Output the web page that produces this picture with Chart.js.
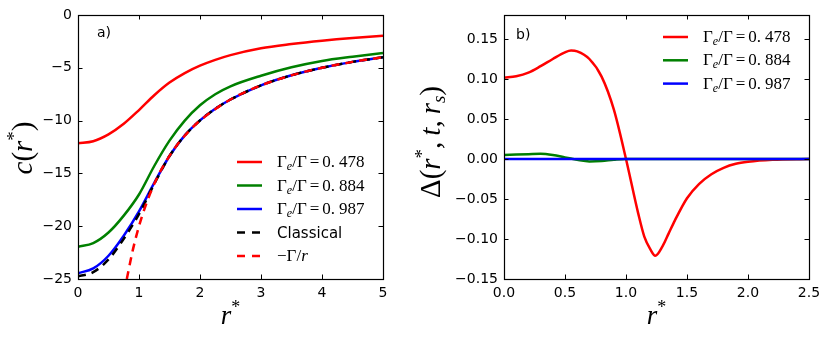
<!DOCTYPE html>
<html>
<head>
<meta charset="utf-8">
<script src="https://cdn.jsdelivr.net/npm/chart.js@4"></script>
<style>
  html, body { margin: 0; padding: 0; background: #fff; }
  #wrap { position: relative; width: 830px; height: 339px; }
  canvas { position: absolute; top: 0; }
</style>
</head>
<body>
<div id="wrap">
  <canvas id="chartA" width="415" height="339" style="left:0"></canvas>
  <canvas id="chartB" width="415" height="339" style="left:415px"></canvas>
</div>
<script>
// ---- panel a) c(r*) ----
const rA = [0, 0.25, 0.5, 0.75, 1, 1.25, 1.5, 1.75, 2, 2.25, 2.5, 3, 3.5, 4, 4.5, 5];
const cRed = [-12.15, -11.95, -11.3, -10.3, -9.0, -7.6, -6.4, -5.5, -4.8, -4.25, -3.8, -3.15, -2.75, -2.43, -2.17, -1.96];
const cGreen = [-21.95, -21.6, -20.6, -19.0, -17.0, -14.3, -11.9, -10.0, -8.55, -7.5, -6.75, -5.75, -4.95, -4.35, -3.95, -3.6];
const cBlue = [-24.45, -24.0, -22.8, -20.9, -18.6, -15.9, -13.35, -11.4, -9.98, -8.88, -8.0, -6.66, -5.71, -5.0, -4.44, -4.0];
const cClassical = [-24.75, -24.35, -23.15, -21.2, -18.85, -16.0, -13.35, -11.42, -9.99, -8.89, -8.0, -6.67, -5.71, -5.0, -4.44, -4.0];
const rInv = [0.8, 0.9, 1, 1.1, 1.2, 1.3, 1.4, 1.6, 1.8, 2, 2.5, 3, 3.5, 4, 4.5, 5];
const cInv = [-25, -22.22, -20, -18.18, -16.67, -15.38, -14.29, -12.5, -11.11, -10, -8, -6.67, -5.71, -5, -4.44, -4];
const xTicksA = [0, 1, 2, 3, 4, 5];
const yTicksA = [-25, -20, -15, -10, -5, 0];

// ---- panel b) Delta(r*, t, r_s) ----
const rB = [0, 0.1, 0.2, 0.3, 0.4, 0.5, 0.55, 0.6, 0.7, 0.8, 0.9, 1.0, 1.1, 1.15, 1.2, 1.24, 1.3, 1.35, 1.4, 1.5, 1.6, 1.7, 1.8, 1.9, 2.0, 2.2, 2.5];
const dRed = [0.1015, 0.1035, 0.108, 0.116, 0.125, 0.1333, 0.1355, 0.1345, 0.125, 0.103, 0.062, 0.0, -0.068, -0.097, -0.113, -0.121, -0.109, -0.093, -0.077, -0.049, -0.031, -0.019, -0.011, -0.006, -0.0035, -0.001, 0];
const dGreen = [0.005, 0.0055, 0.006, 0.0065, 0.005, 0.002, 0.0005, -0.001, -0.003, -0.0025, -0.001, 0, 0, 0, 0, 0, 0, 0, 0, 0, 0, 0, 0, 0, 0, 0, 0];
const dBlue = [0, 0, 0, 0, 0, 0, 0, 0, 0, 0, 0, 0, 0, 0, 0, 0, 0, 0, 0, 0, 0, 0, 0, 0, 0, 0, 0];
const xTicksB = [0, 0.5, 1, 1.5, 2, 2.5];
const yTicksB = [-0.15, -0.1, -0.05, 0, 0.05, 0.1, 0.15];

const RED = 'rgb(255,0,0)', GREEN = 'rgb(0,128,0)', BLUE = 'rgb(0,0,255)', BLACK = 'rgb(0,0,0)';
const SANS = '"DejaVu Sans", sans-serif';
const SERIF = '"Liberation Serif", "DejaVu Serif", serif';
const MINUS = '\u2212';

function pts(xs, ys) { return xs.map((x, i) => ({ x: x, y: ys[i] })); }

// text pieces: {t, f, dy} or {gap}
function richWidth(ctx, segs) {
  let w = 0;
  segs.forEach(s => {
    if (s.gap !== undefined) { w += s.gap; return; }
    ctx.font = s.f; w += ctx.measureText(s.t).width;
  });
  return w;
}
function drawRich(ctx, segs, x, y, align) {
  let cx = x;
  if (align === 'center') cx = x - richWidth(ctx, segs) / 2;
  ctx.textBaseline = 'alphabetic';
  ctx.textAlign = 'left';
  ctx.fillStyle = '#000';
  segs.forEach(s => {
    if (s.gap !== undefined) { cx += s.gap; return; }
    ctx.font = s.f;
    ctx.fillText(s.t, cx, y + (s.dy || 0));
    cx += ctx.measureText(s.t).width;
  });
}
const m = (t, size, style) => ({ t: t, f: (style || '') + ' ' + size + 'px ' + SERIF });
function ratioLabel(val) {
  return [m('Γ', 17), { t: 'e', f: 'italic 12px ' + SERIF, dy: 3 }, m('/Γ', 17), { gap: 3 }, m('=', 17), { gap: 3 }, m('0.', 17), { gap: 4 }, m(val, 17)];
}

function decorations(cfg) {
  return {
    id: 'decor',
    afterDatasetsDraw(chart) {
      const ctx = chart.ctx, a = chart.chartArea;
      const xs = chart.scales.x, ys = chart.scales.y;
      ctx.save();
      ctx.strokeStyle = '#000';
      ctx.lineWidth = 1;
      ctx.beginPath();
      const L = 4.5;
      cfg.xTicks.forEach(v => {
        const p = Math.round(xs.getPixelForValue(v)) + 0.5;
        ctx.moveTo(p, a.bottom); ctx.lineTo(p, a.bottom - L);
        ctx.moveTo(p, a.top); ctx.lineTo(p, a.top + L);
      });
      cfg.yTicks.forEach(v => {
        const p = Math.round(ys.getPixelForValue(v)) + 0.5;
        ctx.moveTo(a.left, p); ctx.lineTo(a.left + L, p);
        ctx.moveTo(a.right, p); ctx.lineTo(a.right - L, p);
      });
      ctx.stroke();
      ctx.lineWidth = 1.2;
      ctx.strokeRect(Math.round(a.left) + 0.5, Math.round(a.top) + 0.5, Math.round(a.right - a.left), Math.round(a.bottom - a.top));

      // panel tag
      ctx.fillStyle = '#000';
      ctx.font = '14px ' + SANS;
      ctx.textAlign = 'left';
      ctx.textBaseline = 'alphabetic';
      ctx.fillText(cfg.tag[0], cfg.tag[1], cfg.tag[2]);

      // legend
      cfg.legend.forEach((it, i) => {
        const y = cfg.legendY + i * cfg.legendStep;
        ctx.strokeStyle = it.color;
        ctx.lineWidth = 2.5;
        ctx.setLineDash(it.dash || []);
        ctx.beginPath();
        ctx.moveTo(cfg.legendX, y); ctx.lineTo(cfg.legendX + 25, y);
        ctx.stroke();
        ctx.setLineDash([]);
        drawRich(ctx, it.label, cfg.legendX + 40, y + 5, 'left');
      });

      // x axis title
      drawRich(ctx, [m('r', 27, 'italic'), { t: '*', f: '18px ' + SERIF, dy: -11 }], (a.left + a.right) / 2, 324, 'center');
      // y axis title (rotated)
      ctx.translate(cfg.yTitleX, cfg.yTitleY);
      ctx.rotate(-Math.PI / 2);
      drawRich(ctx, cfg.yTitle, 0, 8, 'center');
      ctx.restore();
    }
  };
}

function makeChart(id, datasets, xr, yr, xTicks, yTicks, xFmt, yFmt, padRight, yWidth, cfg) {
  cfg.xTicks = xTicks; cfg.yTicks = yTicks;
  return new Chart(document.getElementById(id), {
    type: 'line',
    data: { datasets: datasets },
    options: {
      responsive: false,
      animation: false,
      devicePixelRatio: 1,
      layout: { padding: { left: 0, top: 15, right: padRight, bottom: 0 } },
      elements: { point: { radius: 0 } },
      plugins: { legend: { display: false }, tooltip: { enabled: false } },
      scales: {
        x: {
          type: 'linear', min: xr[0], max: xr[1],
          grid: { display: false, drawTicks: false },
          border: { display: false },
          afterBuildTicks: s => { s.ticks = xTicks.map(v => ({ value: v })); },
          afterFit: s => { s.height = 60; },
          ticks: { padding: 6, color: '#000', font: { family: SANS, size: 14 }, callback: xFmt, maxRotation: 0 }
        },
        y: {
          type: 'linear', min: yr[0], max: yr[1],
          grid: { display: false, drawTicks: false },
          border: { display: false },
          afterBuildTicks: s => { s.ticks = yTicks.map(v => ({ value: v })); },
          afterFit: s => { s.width = yWidth; },
          ticks: { padding: 6, color: '#000', font: { family: SANS, size: 14 }, callback: yFmt }
        }
      }
    },
    plugins: [decorations(cfg)]
  });
}

function ds(label, data, color, dash, order) {
  return {
    label: label, data: data, borderColor: color, backgroundColor: color,
    borderWidth: 2.5, borderDash: dash || [], fill: false, pointRadius: 0,
    cubicInterpolationMode: 'monotone', clip: 0, order: order
  };
}

const fmtInt = v => (v < 0 ? MINUS + Math.abs(v) : String(v));
const fmt1 = v => v.toFixed(1);
const fmt2 = v => (v < -1e-9 ? MINUS + Math.abs(v).toFixed(2) : Math.abs(v).toFixed(2));

makeChart('chartA', [
  ds('0.478', pts(rA, cRed), RED, null, 5),
  ds('0.884', pts(rA, cGreen), GREEN, null, 4),
  ds('0.987', pts(rA, cBlue), BLUE, null, 3),
  ds('Classical', pts(rA, cClassical), BLACK, [8, 6], 2),
  ds('-Gamma/r', pts(rInv, cInv), RED, [8, 6], 1)
], [0, 5], [-25, 0], xTicksA, yTicksA, fmtInt, fmtInt, 32, 78, {
  tag: ['a)', 97, 37],
  legendX: 237, legendY: 162, legendStep: 23.5,
  legend: [
    { color: RED, label: ratioLabel('478') },
    { color: GREEN, label: ratioLabel('884') },
    { color: BLUE, label: ratioLabel('987') },
    { color: BLACK, dash: [8, 7], label: [{ t: 'Classical', f: '15px ' + SANS }] },
    { color: RED, dash: [8, 7], label: [m(MINUS + 'Γ/', 17), m('r', 17, 'italic')] }
  ],
  yTitleX: 24, yTitleY: 148,
  yTitle: [m('c', 29, 'italic'), m('(', 29), m('r', 29, 'italic'), { t: '*', f: '19px ' + SERIF, dy: -12 }, m(')', 29)]
});

makeChart('chartB', [
  ds('0.987', pts(rB, dBlue), BLUE, null, 1),
  ds('0.884', pts(rB, dGreen), GREEN, null, 2),
  ds('0.478', pts(rB, dRed), RED, null, 3)
], [0, 2.5], [-0.15, 0.18], xTicksB, yTicksB, fmt1, fmt2, 21, 89, {
  tag: ['b)', 101, 39],
  legendX: 248, legendY: 37, legendStep: 23.3,
  legend: [
    { color: RED, label: ratioLabel('478') },
    { color: GREEN, label: ratioLabel('884') },
    { color: BLUE, label: ratioLabel('987') }
  ],
  yTitleX: 17, yTitleY: 142,
  yTitle: [m('Δ', 29), m('(', 29), m('r', 29, 'italic'), { t: '*', f: '19px ' + SERIF, dy: -12 }, m(',', 29), { gap: 6 },
           m('t', 29, 'italic'), m(',', 29), { gap: 6 }, m('r', 29, 'italic'), { t: 's', f: 'italic 19px ' + SERIF, dy: 5 }, m(')', 29)]
});
</script>
</body>
</html>
